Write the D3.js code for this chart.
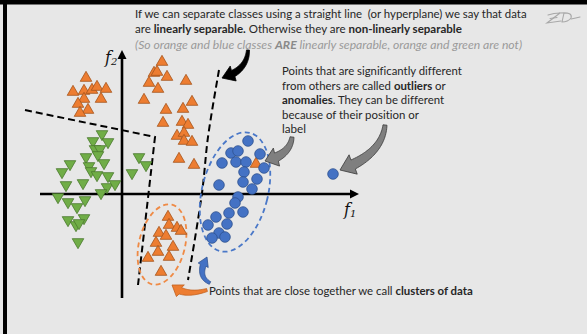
<!DOCTYPE html>
<html lang="en">
<head>
<meta charset="UTF-8">
<title>Separability, outliers and clusters</title>
<style>
  html, body { margin: 0; padding: 0; background: #e7e7e7; }
  svg { display: block; }
  text { font-family: Lato, "Open Sans", sans-serif; fill: #262626; font-variant-ligatures: none; }
</style>
</head>
<body>
<svg id="chart" width="587" height="334"></svg>
<script src="https://cdn.jsdelivr.net/npm/d3@7"></script>
<script>
// feature space: f1 across, f2 up, origin where the two axes cross
const orangeClass = [
  [-3.6, 11.6], [-4.9, 10.2], [-3.8, 10.3], [-3.0, 10.4], [-2.5, 10.7], [-1.6, 10.5],
  [-3.8, 9.5], [-4.4, 9.0], [-2.1, 9.5], [-3.4, 8.4], [-4.2, 8.1],
  [4.0, 13.2], [3.2, 12.1], [3.5, 12.2], [4.5, 11.7], [2.7, 11.1], [3.6, 10.5],
  [6.4, 11.3], [2.2, 9.4], [4.4, 8.4], [6.1, 8.5], [7.0, 9.2], [4.1, 7.1],
  [6.0, 7.2], [6.6, 6.9], [5.5, 5.8], [6.2, 6.1], [6.2, 5.3], [7.0, 5.2],
  [5.7, 3.5], [7.2, 2.9],
  [4.6, -2.3], [4.7, -3.1], [5.5, -3.4], [5.9, -3.7], [3.7, -3.9], [4.4, -4.2],
  [3.4, -4.9], [5.1, -5.3], [3.6, -5.8], [2.6, -6.4], [4.7, -6.3], [3.9, -7.8],
  [13.4, 3.0]  // wrong label inside the blue group
];
const greenClass = [
  [-2.0, 6.0], [-2.9, 5.3], [-1.4, 5.2], [-2.7, 4.5], [-2.2, 4.5], [-2.4, 3.9],
  [-3.6, 3.7], [-1.8, 3.1], [-5.2, 3.0], [-3.3, 2.8], [-6.0, 2.2], [-3.1, 2.3],
  [-2.5, 1.9], [-3.9, 1.1], [-5.6, 0.9], [-1.4, 1.8], [-1.5, 0.7], [-0.7, 1.0],
  [-2.1, 0.1], [1.7, 3.7], [2.4, 2.9], [1.0, 2.1], [-6.4, -0.3], [-5.4, -0.8],
  [-3.7, -0.6], [-4.5, -1.3], [-5.4, -2.6], [-3.8, -2.4], [-4.6, -3.1],
  [-4.3, -2.9], [-4.4, -4.8]
];
const blueClass = [
  [12.6, 5.3], [10.9, 4.1], [11.6, 4.3], [13.8, 4.0], [10.0, 3.1], [11.4, 3.2],
  [12.4, 3.2], [14.2, 2.6], [12.2, 2.2], [13.5, 1.5], [12.1, 1.2], [9.7, 0.9],
  [13.0, 0.5], [11.6, -0.3], [11.3, -0.9], [10.7, -1.9], [12.1, -1.8], [9.4, -2.3],
  [10.5, -3.0], [8.6, -3.1], [9.7, -3.9], [10.3, -4.3], [9.0, -4.4],
  [21.1, 2.0]  // far away from everything
];

// separating boundaries
const nonLinearBoundary = [[-9.7, 8.4], [3.3, 5.7], [1.6, -9.1]];
const linearBoundary = [[9.7, 12.4], [8.6, 5.7], [8.0, 0.1], [6.6, -8.6]];

// clusters: centre, half axes, tilt in degrees
const clusterCenters = [[4.0, -5.05], [11.3, 0.2]];
const clusterRadii = [[2.3, 4.1], [3.3, 6.1]];
const clusterTilt = [14, 14];

// axes extent
const f1Extent = [-8.2, 23.7];
const f2Extent = [-10.4, 14.4];

// annotation arrows: tail, bend, tip
const arrowPaths = [
  [[12.6, 14.4], [12.5, 12.3], [10.0, 11.6]],
  [[17.0, 5.7], [16.8, 3.9], [14.3, 3.3]],
  [[26.3, 6.9], [26.0, 3.9], [21.8, 2.4]],
  [[8.8, -8.9], [7.4, -8.2], [8.5, -6.3]],
  [[8.5, -9.6], [6.1, -10.3], [5.0, -9.1]]
];

const headerLines = [
  [["If we can separate classes using a straight line  (or hyperplane) we say that data", false]],
  [["are ", false], ["linearly separable.", true], [" Otherwise they are ", false], ["non-linearly separable", true]]
];
const headerNote = [["(So orange and blue classes ", false], ["ARE", true], [" linearly separable, orange and green are not)", false]];
const outlierLines = [
  [["Points that are significantly different", false]],
  [["from others are called ", false], ["outliers", true], [" or", false]],
  [["anomalies", true], [". They can be different", false]],
  [["because of their position or", false]],
  [["label", false]]
];
const clusterLine = [["Points that are close together we call ", false], ["clusters of data", true]];

const svg = d3.select("#chart"),
  width = +svg.attr("width"),
  height = +svg.attr("height");

const x = d3.scaleLinear().domain([0, 10]).range([122, 222]);
const y = d3.scaleLinear().domain([0, 10]).range([194, 94]);

svg.append("rect").attr("width", width).attr("height", height).attr("fill", "#e7e7e7");
// frame bits
svg.append("rect").attr("x", 0).attr("y", 0).attr("width", width).attr("height", 4.5).attr("fill", "#000");
svg.append("rect").attr("x", 3).attr("y", 0).attr("width", 4).attr("height", height).attr("fill", "#000");

// axes
const axisG = svg.append("g");
axisG.append("line")
  .attr("x1", x(f1Extent[0])).attr("x2", x(f1Extent[1]) - 6)
  .attr("y1", y(0)).attr("y2", y(0))
  .attr("stroke", "#000").attr("stroke-width", 2.6);
axisG.append("path")
  .attr("d", `M${x(f1Extent[1])},${y(0)} l-9,-4.5 l0,9 Z`).attr("fill", "#000");
axisG.append("line")
  .attr("x1", x(0)).attr("x2", x(0))
  .attr("y1", y(f2Extent[0])).attr("y2", y(f2Extent[1]) + 6)
  .attr("stroke", "#000").attr("stroke-width", 2.6);
axisG.append("path")
  .attr("d", `M${x(0)},${y(f2Extent[1])} l-4.5,9 l9,0 Z`).attr("fill", "#000");

function axisLabel(px, py, sub) {
  const t = svg.append("text").attr("x", px).attr("y", py)
    .style("font-family", "'DejaVu Serif', 'Liberation Serif', serif")
    .style("font-style", "italic").style("font-size", "16px").style("fill", "#111");
  t.append("tspan").text("f");
  t.append("tspan").attr("dy", 2).style("font-size", "10px").text(sub);
}
axisLabel(x(-1.7), y(13.1), "2");
axisLabel(x(22.2), y(-2.1), "1");

// boundaries
const straight = d3.line().x(d => x(d[0])).y(d => y(d[1]));
const smooth = d3.line().x(d => x(d[0])).y(d => y(d[1])).curve(d3.curveCatmullRom);
svg.append("path").datum(nonLinearBoundary).attr("d", straight)
  .attr("fill", "none").attr("stroke", "#000").attr("stroke-width", 2)
  .attr("stroke-dasharray", "7,4");
svg.append("path").datum(linearBoundary).attr("d", smooth)
  .attr("fill", "none").attr("stroke", "#000").attr("stroke-width", 2)
  .attr("stroke-dasharray", "7,4");

// cluster ellipses
const clusterColor = ["#ef8a45", "#4a78c8"];
clusterCenters.forEach((c, i) => {
  svg.append("ellipse")
    .attr("cx", x(c[0])).attr("cy", y(c[1]))
    .attr("rx", x(clusterRadii[i][0]) - x(0))
    .attr("ry", y(0) - y(clusterRadii[i][1]))
    .attr("transform", `rotate(${clusterTilt[i]},${x(c[0])},${y(c[1])})`)
    .attr("fill", "none").attr("stroke", clusterColor[i])
    .attr("stroke-width", 1.8).attr("stroke-dasharray", "5,3.5");
});

// points
const tri = d3.symbol(d3.symbolTriangle, 58)();
svg.append("g").selectAll("path").data(greenClass).join("path")
  .attr("d", tri)
  .attr("transform", d => `translate(${x(d[0])},${y(d[1])}) rotate(180)`)
  .attr("fill", "#70ad47").attr("stroke", "#4b7a2e").attr("stroke-width", 0.8);
svg.append("g").selectAll("path").data(orangeClass).join("path")
  .attr("d", tri)
  .attr("transform", d => `translate(${x(d[0])},${y(d[1])})`)
  .attr("fill", "#ed7d31").attr("stroke", "#a4541c").attr("stroke-width", 0.8);
svg.append("g").selectAll("circle").data(blueClass).join("circle")
  .attr("cx", d => x(d[0])).attr("cy", d => y(d[1])).attr("r", 5.3)
  .attr("fill", "#4472c4").attr("stroke", "#2f528f").attr("stroke-width", 0.8);

// curved block arrows
function curvedArrow(pts, w0, w1, headW, headL) {
  const p = pts.map(d => [x(d[0]), y(d[1])]);
  const bez = t => [0, 1].map(k => (1 - t) * (1 - t) * p[0][k] + 2 * (1 - t) * t * p[1][k] + t * t * p[2][k]);
  const der = t => [0, 1].map(k => 2 * (1 - t) * (p[1][k] - p[0][k]) + 2 * t * (p[2][k] - p[1][k]));
  let tHead = 0.8;
  for (let t = 1; t > 0; t -= 0.005) {
    const q = bez(t);
    if (Math.hypot(q[0] - p[2][0], q[1] - p[2][1]) >= headL) { tHead = t; break; }
  }
  const left = [], right = [], n = 30;
  for (let i = 0; i <= n; i++) {
    const t = tHead * i / n, q = bez(t), d = der(t), len = Math.hypot(d[0], d[1]);
    const nx = -d[1] / len, ny = d[0] / len, w = w0 + (w1 - w0) * i / n;
    left.push([q[0] + nx * w / 2, q[1] + ny * w / 2]);
    right.push([q[0] - nx * w / 2, q[1] - ny * w / 2]);
  }
  const b = bez(tHead), dx = p[2][0] - b[0], dy = p[2][1] - b[1], dl = Math.hypot(dx, dy);
  const hx = -dy / dl, hy = dx / dl;
  const outline = left.concat([[b[0] + hx * headW / 2, b[1] + hy * headW / 2], p[2],
    [b[0] - hx * headW / 2, b[1] - hy * headW / 2]], right.reverse());
  return "M" + outline.map(q => q.join(",")).join("L") + "Z";
}
const arrowStyle = [
  { fill: "#000", stroke: "#000", w0: 3, w1: 7, hw: 16, hl: 12 },
  { fill: "#7f7f7f", stroke: "#3a3a3a", w0: 4, w1: 9, hw: 19, hl: 12 },
  { fill: "#7f7f7f", stroke: "#3a3a3a", w0: 4, w1: 10, hw: 21, hl: 14 },
  { fill: "#4472c4", stroke: "#2f528f", w0: 3, w1: 6, hw: 11, hl: 9 },
  { fill: "#ed7d31", stroke: "#c0601e", w0: 3, w1: 7, hw: 14, hl: 10 }
];
arrowPaths.forEach((a, i) => {
  const s = arrowStyle[i];
  svg.append("path").attr("d", curvedArrow(a, s.w0, s.w1, s.hw, s.hl))
    .attr("fill", s.fill).attr("stroke", s.stroke).attr("stroke-width", 0.8)
    .attr("stroke-linejoin", "round");
});

// texts, font size tuned so each line gets the width it has in the original
function richText(parts, px, py, targetW, opts = {}) {
  const base = opts.size || 11;
  const t = svg.append("text").attr("x", px).attr("y", py)
    .attr("xml:space", "preserve")
    .style("font-size", base + "px");
  if (opts.italic) t.style("font-style", "italic");
  if (opts.family) t.style("font-family", opts.family);
  parts.forEach(([s, b]) => {
    const sp = t.append("tspan").text(s);
    if (b) sp.style("font-weight", "bold");
    if (opts.color) sp.style("fill", b ? opts.boldColor || opts.color : opts.color);
  });
  if (targetW) {
    const w = t.node().getComputedTextLength();
    t.style("font-size", (base * targetW / w).toFixed(2) + "px");
  }
  return t;
}
richText(headerLines[0], 135, 17.5, 392);
richText(headerLines[1], 135, 33, 327);
richText(headerNote, 135, 49, 387, { italic: true, color: "#9a9a9a", boldColor: "#8a8a8a" });

const outlierW = [180, 164, 162, 137, 24];
outlierLines.forEach((l, i) => richText(l, 282, 75 + i * 14.6, outlierW[i]));
richText(clusterLine, 209, 295, 264);

// signature
const sig = svg.append("g").attr("fill", "none").attr("stroke", "#a8a8a8")
  .attr("stroke-width", 1.1).attr("stroke-linecap", "round");
sig.append("path").attr("d", "M548,15 Q554,13 560,13 L547,23 Q554,22 561,21");
sig.append("path").attr("d", "M550,18.5 L557,17.5");
sig.append("path").attr("d", "M564,13 L562,22 M561,13 Q573,12 571,18 Q568,22 562,22");
sig.append("path").attr("d", "M571,19 Q576,18 580,17");
</script>
</body>
</html>
